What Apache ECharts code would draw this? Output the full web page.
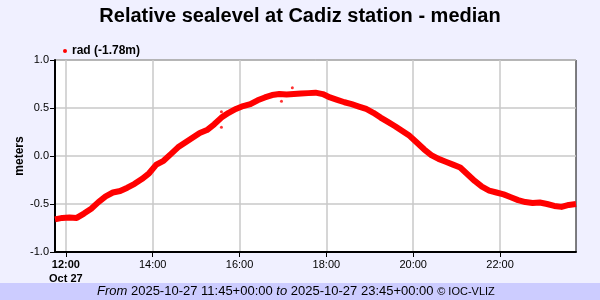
<!DOCTYPE html>
<html><head><meta charset="utf-8">
<script src="https://cdn.jsdelivr.net/npm/echarts@6/dist/echarts.min.js"></script>
<style>html,body{margin:0;padding:0;background:#f0f0ff}#c{width:600px;height:300px}</style>
</head><body><div id="c"></div>
<script>
// time (HH:MM on 2025-10-27) and relative sea level (m)
const times = ["11:45","11:55","12:05","12:15","12:25","12:35","12:45","12:55","13:05","13:15","13:25","13:35","13:45","13:55","14:05","14:15","14:25","14:35","14:45","14:55","15:05","15:15","15:25","15:35","15:45","15:55","16:05","16:15","16:25","16:35","16:45","16:55","17:05","17:15","17:25","17:35","17:45","17:55","18:05","18:15","18:25","18:35","18:45","18:55","19:05","19:15","19:25","19:35","19:45","19:55","20:05","20:15","20:25","20:35","20:45","20:55","21:05","21:15","21:25","21:35","21:45","21:55","22:05","22:15","22:25","22:35","22:45","22:55","23:05","23:15","23:25","23:35","23:45"];
const values = [-0.66,-0.645,-0.64,-0.645,-0.60,-0.55,-0.48,-0.42,-0.38,-0.365,-0.33,-0.29,-0.24,-0.18,-0.09,-0.05,0.02,0.09,0.14,0.19,0.24,0.27,0.33,0.40,0.45,0.49,0.52,0.54,0.58,0.61,0.635,0.645,0.64,0.645,0.65,0.655,0.66,0.645,0.61,0.585,0.56,0.54,0.515,0.49,0.45,0.40,0.355,0.31,0.26,0.21,0.14,0.07,0.01,-0.03,-0.06,-0.09,-0.12,-0.19,-0.26,-0.32,-0.36,-0.38,-0.40,-0.43,-0.46,-0.48,-0.49,-0.485,-0.50,-0.52,-0.53,-0.51,-0.50];
// isolated outlier samples
const outlierTimes = ["15:35","15:35","16:58","17:13"];
const outlierValues = [0.46,0.30,0.57,0.71];
const xTicks = [12,14,16,18,20,22];
const seriesName = "rad (-1.78m)";
const titleText = "Relative sealevel at Cadiz station - median";
const dateLabel = "Oct 27";

function toHours(t){const p=t.split(':');return +p[0]+(+p[1])/60;}
const lineData = times.map((t,i)=>[toHours(t),values[i]]);
const outData = outlierTimes.map((t,i)=>[toHours(t),outlierValues[i]]);

const chart = echarts.init(document.getElementById('c'));
chart.setOption({
  backgroundColor:'#f0f0ff',
  animation:false,
  title:{text:titleText,left:'center',top:1,textStyle:{fontFamily:'Liberation Sans',fontSize:20,fontWeight:'bold',color:'#000'}},
  legend:{data:[{name:seriesName,icon:'circle'}],left:58,top:40,itemWidth:4,itemHeight:4,itemGap:5,
    textStyle:{fontFamily:'Liberation Sans',fontSize:12,fontWeight:'bold',color:'#000'}},
  grid:{left:55,right:24,top:60,bottom:48,show:true,backgroundColor:'#fff',borderColor:'#000',borderWidth:1},
  xAxis:{type:'value',min:11.75,max:23.75,
    axisLine:{onZero:false,lineStyle:{color:'#000',width:2}},
    axisTick:{customValues:xTicks,length:5,lineStyle:{color:'#000',width:1}},
    splitLine:{show:true,lineStyle:{color:'#c8c8c8',width:1.5}},
    axisLabel:{customValues:xTicks,margin:6,color:'#000',fontFamily:'Liberation Sans',fontSize:11,lineHeight:14,
      formatter:v=>{const s=String(v).padStart(2,'0')+':00';return v===12?'{b|'+s+'}\n{b|'+dateLabel+'}':s;},
      rich:{b:{fontWeight:'bold',fontFamily:'Liberation Sans',fontSize:11,lineHeight:14}}}},
  yAxis:{type:'value',min:-1,max:1,interval:0.5,
    name:'meters',nameLocation:'middle',nameRotate:90,nameGap:29,nameMoveOverlap:false,
    nameTextStyle:{fontFamily:'Liberation Sans',fontSize:12,fontWeight:'bold',color:'#000'},
    axisLine:{show:true,lineStyle:{color:'#000',width:2}},
    axisTick:{show:true,length:5,lineStyle:{color:'#000'}},
    splitLine:{show:true,lineStyle:{color:'#c8c8c8',width:1.5}},
    axisLabel:{color:'#000',fontFamily:'Liberation Sans',fontSize:11,margin:6,formatter:v=>v.toFixed(1)}},
  series:[
    {name:seriesName,type:'line',data:lineData,showSymbol:false,symbol:'circle',color:'#ff0000',
      lineStyle:{color:'#ff0000',width:6,join:'round'},itemStyle:{color:'#ff0000'}},
    {name:'out',type:'scatter',data:outData,symbolSize:3,itemStyle:{color:'#ff0000'}}
  ],
  graphic:[
    {type:'rect',left:0,top:283,shape:{width:600,height:17},style:{fill:'#ccccff'},z:-1},
    {type:'text',left:97,top:285,style:{
      text:'{i|From} 2025-10-27 11:45+00:00 {i|to} 2025-10-27 23:45+00:00 {s|© IOC-VLIZ}',
      font:'13px "Liberation Sans"',fill:'#000',
      rich:{i:{fontStyle:'italic',fontSize:13,fontFamily:'Liberation Sans'},s:{fontSize:11,fontFamily:'Liberation Sans'}}}}
  ]
});
</script></body></html>
